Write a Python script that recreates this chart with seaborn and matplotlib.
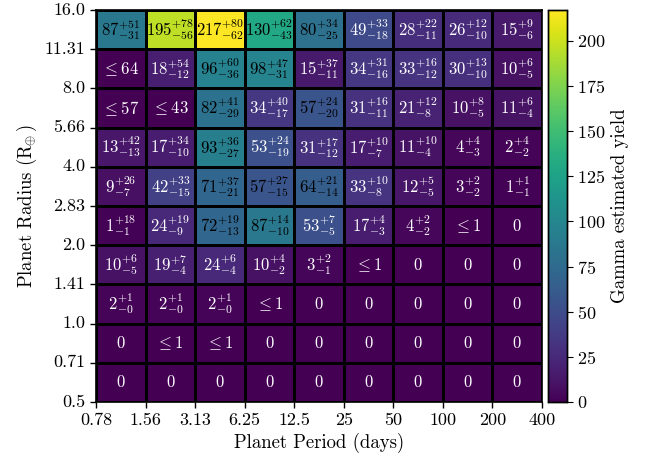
import numpy as np
import pandas as pd
import matplotlib
matplotlib.use("Agg")
import matplotlib.pyplot as plt
import seaborn as sns

plt.rcParams.update({
    "font.family": "serif",
    "font.serif": ["cmr10"],
    "mathtext.fontset": "cm",
    "axes.formatter.use_mathtext": True,
    "font.size": 12,
})

# Bin edges
period_edges = ["0.78", "1.56", "3.13", "6.25", "12.5", "25", "50", "100", "200", "400"]
radius_edges = ["16.0", "11.31", "8.0", "5.66", "4.0", "2.83", "2.0", "1.41", "1.0", "0.71", "0.5"]

# Median yield per cell (rows from largest radius down); None marks an upper limit
median = [
    [87, 195, 217, 130, 80, 49, 28, 26, 15],
    [None, 18, 96, 98, 15, 34, 33, 30, 10],
    [None, None, 82, 34, 57, 31, 21, 10, 11],
    [13, 17, 93, 53, 31, 17, 11, 4, 2],
    [9, 42, 71, 57, 64, 33, 12, 3, 1],
    [1, 24, 72, 87, 53, 17, 4, None, 0],
    [10, 19, 24, 10, 3, None, 0, 0, 0],
    [2, 2, 2, None, 0, 0, 0, 0, 0],
    [0, None, None, 0, 0, 0, 0, 0, 0],
    [0, 0, 0, 0, 0, 0, 0, 0, 0],
]
err_plus = [
    [51, 78, 80, 62, 34, 33, 22, 12, 9],
    [0, 54, 60, 47, 37, 31, 16, 13, 6],
    [0, 0, 41, 40, 24, 16, 12, 8, 6],
    [42, 34, 36, 24, 17, 10, 10, 4, 4],
    [26, 33, 37, 27, 21, 10, 5, 2, 1],
    [18, 19, 19, 14, 7, 4, 2, 0, 0],
    [6, 7, 6, 4, 2, 0, 0, 0, 0],
    [1, 1, 1, 0, 0, 0, 0, 0, 0],
    [0, 0, 0, 0, 0, 0, 0, 0, 0],
    [0, 0, 0, 0, 0, 0, 0, 0, 0],
]
err_minus = [
    [31, 56, 62, 43, 25, 18, 11, 10, 6],
    [0, 12, 36, 31, 11, 16, 12, 10, 5],
    [0, 0, 29, 17, 20, 11, 8, 5, 4],
    [13, 10, 27, 19, 12, 7, 4, 3, 2],
    [7, 15, 21, 15, 14, 8, 5, 2, 1],
    [1, 9, 13, 10, 5, 3, 2, 0, 0],
    [5, 4, 4, 2, 1, 0, 0, 0, 0],
    [0, 0, 0, 0, 0, 0, 0, 0, 0],
    [0, 0, 0, 0, 0, 0, 0, 0, 0],
    [0, 0, 0, 0, 0, 0, 0, 0, 0],
]
# Upper limits for cells without a detection
upper_limit = [
    [0, 0, 0, 0, 0, 0, 0, 0, 0],
    [64, 0, 0, 0, 0, 0, 0, 0, 0],
    [57, 43, 0, 0, 0, 0, 0, 0, 0],
    [0, 0, 0, 0, 0, 0, 0, 0, 0],
    [0, 0, 0, 0, 0, 0, 0, 0, 0],
    [0, 0, 0, 0, 0, 0, 0, 1, 0],
    [0, 0, 0, 0, 0, 1, 0, 0, 0],
    [0, 0, 0, 1, 0, 0, 0, 0, 0],
    [0, 1, 1, 0, 0, 0, 0, 0, 0],
    [0, 0, 0, 0, 0, 0, 0, 0, 0],
]

nrow, ncol = len(median), len(median[0])
color_vals = np.zeros((nrow, ncol))
labels = np.empty((nrow, ncol), dtype=object)
for i in range(nrow):
    for j in range(ncol):
        m = median[i][j]
        if m is None:
            color_vals[i, j] = 0
            labels[i, j] = r"$\leq %d$" % upper_limit[i][j]
        else:
            color_vals[i, j] = m
            if m == 0:
                labels[i, j] = r"$0$"
            else:
                labels[i, j] = r"$%d^{+%d}_{-%d}$" % (m, err_plus[i][j], err_minus[i][j])

df = pd.DataFrame(color_vals)

fig = plt.figure(figsize=(6.46, 4.63), dpi=100)
W, H = 646, 463
ax = fig.add_axes([96 / W, 1 - 402 / H, (542 - 96) / W, (402 - 10) / H])
cax = fig.add_axes([548 / W, 1 - 402 / H, (567 - 548) / W, (402 - 10) / H])

sns.heatmap(df, ax=ax, cbar_ax=cax, cmap="viridis", vmin=0, vmax=217,
            linewidths=2, linecolor="black", annot=False, square=False,
            cbar_kws={"label": "Gamma estimated yield"})

for i in range(nrow):
    for j in range(ncol):
        col = "black" if color_vals[i, j] > 55 else "white"
        ax.text(j + 0.5, i + 0.5, labels[i, j], ha="center", va="center",
                color=col, fontsize=12)

ax.set_xticks(np.arange(ncol + 1))
ax.set_xticklabels(period_edges, rotation=0)
ax.set_yticks(np.arange(nrow + 1))
ax.set_yticklabels(radius_edges, rotation=0)
ax.tick_params(axis="both", length=4, width=1, labelsize=13, direction="out")
ax.set_xlabel("Planet Period (days)", fontsize=13.5)
ax.set_ylabel(r"Planet Radius ($\mathrm{R}_{\!\!\oplus}$)", fontsize=13.5)
for s in ax.spines.values():
    s.set_visible(True)
    s.set_linewidth(1.2)

cax.set_yticks([0, 25, 50, 75, 100, 125, 150, 175, 200])
cax.tick_params(labelsize=13, length=4)
cax.yaxis.label.set_size(13.5)
for s in cax.spines.values():
    s.set_visible(True)
    s.set_linewidth(1)

fig.savefig("out.png", dpi=100)
